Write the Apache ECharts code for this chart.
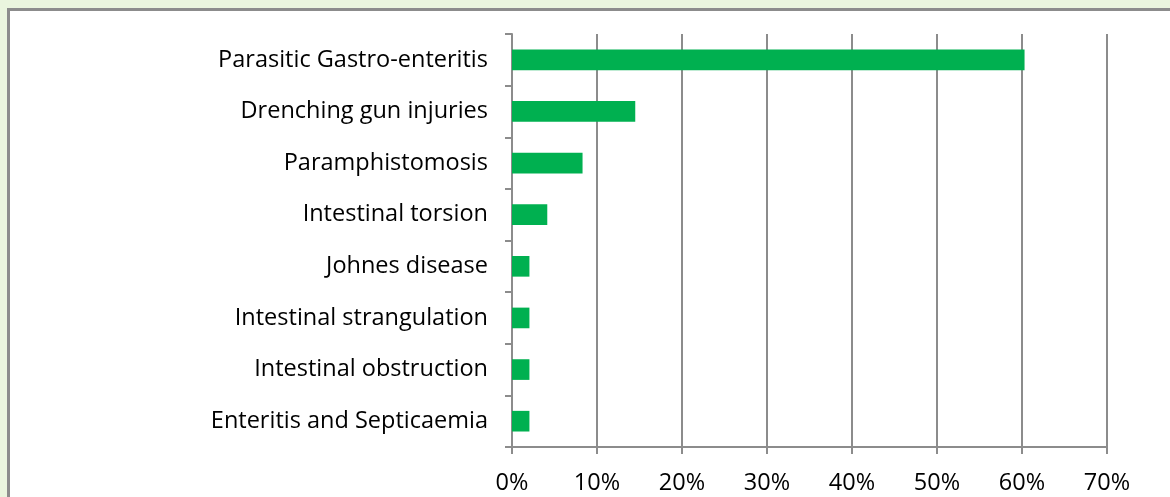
<!DOCTYPE html>
<html>
<head>
<meta charset="utf-8">
<script src="https://cdn.jsdelivr.net/npm/echarts@6/dist/echarts.min.js"></script>
<style>
  html, body { margin: 0; padding: 0; background: #eaf5de; }
  #frame { position: absolute; left: 7px; top: 8px; width: 1170px; height: 497px;
           background: #ffffff; border-left: 3px solid #8c8c8c; border-top: 3px solid #8c8c8c; }
  #chart { position: absolute; left: 0; top: 0; width: 1170px; height: 497px; }
</style>
</head>
<body>
<div id="frame"></div>
<div id="chart"></div>
<script>
// Causes listed bottom-to-top along the category axis
const categories = [
  'Enteritis and Septicaemia',
  'Intestinal obstruction',
  'Intestinal strangulation',
  'Johnes disease',
  'Intestinal torsion',
  'Paramphistomosis',
  'Drenching gun injuries',
  'Parasitic Gastro-enteritis'
];
// Share of cases, percent
const shares = [2.05, 2.05, 2.05, 2.05, 4.15, 8.3, 14.5, 60.3];
const tickMax = 70;
const tickStep = 10;

const chart = echarts.init(document.getElementById('chart'), null, { renderer: 'canvas' });
chart.setOption({
  animation: false,
  backgroundColor: 'transparent',
  grid: { left: 512, right: 63, top: 34, bottom: 50, containLabel: false },
  xAxis: {
    type: 'value',
    min: 0,
    max: tickMax,
    interval: tickStep,
    axisLine: { show: true, lineStyle: { color: '#8c8c8c', width: 2 } },
    axisTick: { show: true, length: 7, lineStyle: { color: '#8c8c8c', width: 2 } },
    splitLine: { show: true, lineStyle: { color: '#8c8c8c', width: 2 } },
    axisLabel: {
      formatter: v => v + '%',
      color: '#000', fontFamily: 'Open Sans, Liberation Sans, sans-serif', fontSize: 23.5, margin: 24
    }
  },
  yAxis: {
    type: 'category',
    data: categories,
    axisLine: { show: true, lineStyle: { color: '#8c8c8c', width: 2 } },
    axisTick: { show: true, length: 7, lineStyle: { color: '#8c8c8c', width: 2 } },
    axisLabel: {
      color: '#000', fontFamily: 'Open Sans, Liberation Sans, sans-serif', fontSize: 23.5, margin: 24
    }
  },
  series: [{
    type: 'bar',
    data: shares,
    barWidth: '40%',
    itemStyle: { color: '#00b050' }
  }]
});
</script>
</body>
</html>
